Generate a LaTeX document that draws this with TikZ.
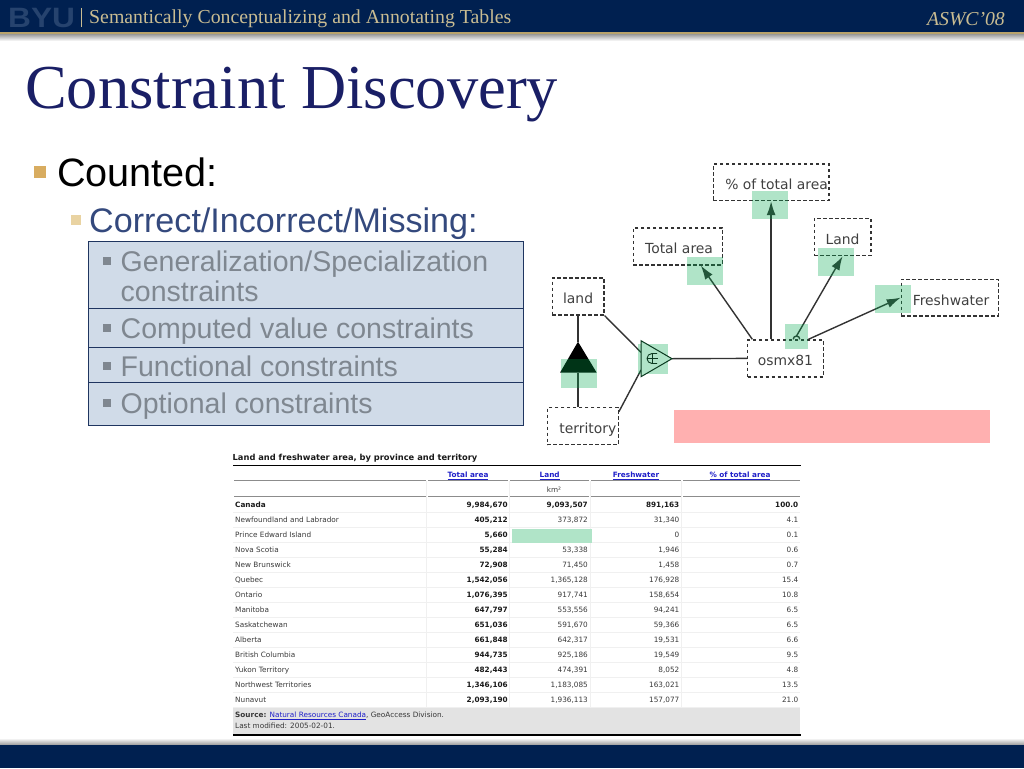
\documentclass[tikz,border=0pt]{standalone}
\usepackage{fontspec}
\setmainfont{Liberation Serif}
\setsansfont{Liberation Sans}
\newfontfamily\tablefont{DejaVu Sans}
\usetikzlibrary{arrows.meta,positioning,calc}
\newcommand{\fsz}[1]{\fontsize{#1}{#1}\selectfont}
\definecolor{navy}{HTML}{002050}
\definecolor{tan}{HTML}{C9BC92}
\definecolor{gold}{HTML}{B9A36B}
\definecolor{byublue}{HTML}{26436E}
\definecolor{bulletone}{HTML}{D8AC60}
\definecolor{bullettwo}{HTML}{E9D3A2}
\definecolor{titleblue}{HTML}{1A1F66}
\definecolor{subblue}{HTML}{34497D}
\definecolor{barfill}{HTML}{D0DBE8}
\definecolor{barline}{HTML}{1F3560}
\definecolor{fadegray}{HTML}{7F8790}
\definecolor{hilite}{RGB}{0,168,77}
\definecolor{hilitesolid}{RGB}{176,228,200}
\definecolor{symgreen}{HTML}{0B3A20}
\definecolor{pinkbar}{HTML}{FFB0B0}
\definecolor{linkblue}{HTML}{2020C8}
\tikzset{
  band/.style={fill=navy,draw=none},
  baritem/.style={draw=barline,line width=1pt,fill=barfill,anchor=north west,minimum width=435.5pt,inner sep=0},
  bartext/.style={anchor=base west,inner sep=0,text=fadegray,font=\sffamily\fsz{28.5}},
  objbox/.style={draw=black!80,dash pattern=on 3.5pt off 2.5pt,line width=1.2pt,anchor=north west,inner sep=0,
                 text=black!75,text height=14.8pt,text depth=0pt,font=\tablefont\fsz{13.9}},
  conn/.style={draw=black!80,line width=1.4pt},
  vnyil/.style={conn,-{Latex[length=14pt,width=9pt]}},
  zold/.style={fill=hilite,fill opacity=.31,draw=none},
  tcell/.style={anchor=east,inner sep=0,text height=6pt,text depth=1.5pt,text=black!78,font=\tablefont\fsz{7.3}},
  tbold/.style={tcell,text=black!90,font=\tablefont\bfseries\fsz{7.3}},
  tname/.style={tcell,anchor=west},
  thead/.style={anchor=center,inner sep=0,text=linkblue,font=\tablefont\bfseries\fsz{7.3}},
  hrule/.style={draw=black!45,line width=1pt},
  grid/.style={draw=black!6,line width=.6pt},
}
\begin{document}
\begin{tikzpicture}[x=1pt,y=-1pt]
  \useasboundingbox (0,0) rectangle (1024,768);
  % header and footer bands
  \shade[top color=black!40,bottom color=white,draw=none] (0,34) rectangle (1024,41);
  \shade[top color=white,bottom color=black!40,draw=none] (0,738) rectangle (1024,745);
  \fill[band] (0,0) rectangle (1024,32.5); \fill[gold] (0,32.5) rectangle (1024,34.5);
  \fill[band] (0,745) rectangle (1024,768);
  \node[anchor=base west,inner sep=0,xscale=1.13,text=byublue,font=\sffamily\bfseries\fsz{28}] (byu) at (8,28) {BYU};
  \draw[tan,line width=.7pt] (81.5,8) -- (81.5,27);
  \node[anchor=base west,inner sep=0,text=tan,font=\fsz{19.8}] (talk) at (89,24) {Semantically Conceptualizing and Annotating Tables};
  \node[anchor=base east,inner sep=0,text=tan,font=\itshape\fsz{19.7}] (conf) at (1005,26) {ASWC'08};
  \node[anchor=base west,inner sep=0,text=titleblue,font=\fsz{62.5}] (cim) at (25,108) {Constraint Discovery};
  % bullets
  \node[fill=bulletone,inner sep=0,minimum size=12pt] (b1) at (39.5,171.5) {};
  \node[anchor=base west,inner sep=0,font=\sffamily\fsz{39.6}] (counted) at (57,186) {Counted:};
  \node[fill=bullettwo,inner sep=0,minimum size=9.5pt] (b2) at (76,220) {};
  \node[anchor=base west,inner sep=0,text=subblue,font=\sffamily\fsz{34.1}] (cim2) at (89,232) {Correct/Incorrect/Missing:};
  \node[baritem,minimum height=67pt] (bar1) at (87.5,241) {};
  \node[baritem,minimum height=38.5pt] (bar2) at (87.5,308) {};
  \node[baritem,minimum height=35pt] (bar3) at (87.5,346.5) {};
  \node[baritem,minimum height=43.5pt] (bar4) at (87.5,381.5) {};
  \foreach \yb [count=\i] in {271,338,376,413}{
    \node[fill=fadegray,inner sep=0,minimum size=8pt] (sq\i) at (107,\yb-10) {};
  }
  \node[bartext] (t1) at (120.5,271) {Generalization/Specialization};
  \node[bartext] (t1b) at (120.5,301) {constraints};
  \node[bartext] (t2) at (120.5,338) {Computed value constraints};
  \node[bartext] (t3) at (120.5,376) {Functional constraints};
  \node[bartext] (t4) at (120.5,413) {Optional constraints};
  % object sets
  \node[objbox,minimum width=115.6pt,minimum height=36.7pt] (pct) at (712.7,163.3) {\hspace*{11pt}\% of total area};
  \node[objbox,minimum width=89pt,minimum height=37pt] (total) at (632.7,227.3) {\hspace*{2.5pt}Total area};
  \node[objbox,minimum width=56.6pt,minimum height=37.3pt] (landc) at (813.7,217.7) {Land};
  \node[objbox,minimum width=51.6pt,minimum height=37pt] (landp) at (551.7,277.3) {land};
  \node[objbox,minimum width=97pt,minimum height=36.6pt] (fresh) at (900.7,278.7) {\hspace*{2.5pt}Freshwater};
  \node[objbox,minimum width=75.7pt,minimum height=37pt] (osmx) at (747,339.3) {osmx81};
  \node[objbox,minimum width=71pt,minimum height=37pt] (terr) at (546.7,407) {\hspace*{10pt}territory};
  \coordinate (apex) at (578,341.7); \coordinate (basel) at (560,372.7); \coordinate (baser) at (596.7,372.7);
  \coordinate (basem) at (578,372.7);
  \coordinate (sumtop) at (641,340.7); \coordinate (sumbot) at (641,376.7); \coordinate (sumtip) at (672,358.7);
  \coordinate (sumin1) at (641,352.3); \coordinate (sumin2) at (641,370); \coordinate (sumc) at (652,358.5);
  \coordinate (bump) at (796.5,339.3);
  \draw[conn] (apex |- landp.south) -- (apex);
  \draw[conn] (terr.north -| basem) -- (basem);
  \fill[black] (apex) -- (basel) -- (baser) -- cycle;
  \draw[conn] (landp.south east) -- (sumin1);
  \draw[conn] (terr.east |- 0,411.7) -- (sumin2);
  \draw[conn] (sumtip) -- (osmx.west);
  \draw[vnyil] ([xshift=5.3pt]osmx.north west) -- ([xshift=23pt]total.south);
  \draw[vnyil] (pct.south |- osmx.north) -- (pct.south);
  \draw[vnyil] ([yshift=3.3pt]bump) -- (landc.south);
  \draw[vnyil] ([xshift=23pt]osmx.north) -- (fresh.west);
  \draw[conn] (bump) ++(-3.3pt,0) arc[start angle=180,end angle=0,radius=3.3pt];
  % highlights
  \fill[zold] (752.3,191.3) rectangle (788,219.3);
  \fill[zold] (687,257.3) rectangle (723,285.3);
  \fill[zold] (818.3,247.7) rectangle (854.3,276);
  \fill[zold] (875,285) rectangle (911,313.3);
  \fill[zold] (785.3,324) rectangle (808.3,348.7);
  \fill[zold] (638.3,344) rectangle (667.7,374);
  \fill[zold] (561.3,359.3) rectangle (597,388);
  \draw[symgreen,line width=1pt,fill=hilitesolid] (sumtop) -- (sumbot) -- (sumtip) -- cycle;
  \draw[symgreen,line width=.9pt] (657,353.5) -- (652,353.5) arc[start angle=90,end angle=270,radius=5pt] -- (657,363.5);
  \draw[symgreen,line width=.9pt] (647,358.5) -- (658,358.5) (652,353.5) -- (652,363.5);
  \fill[pinkbar] (674.3,410) rectangle (989.7,443.3);
  % table
  \node[anchor=base west,inner sep=0,text=black!90,font=\tablefont\bfseries\fsz{8.3}] (tcim) at (232.5,460) {Land and freshwater area, by province and territory};
  \draw[black,line width=1.1pt] (233,465.5) -- (801,465.5);
  \fill[black!11] (233,708) rectangle (800,734);
  \draw[black,line width=1.3pt] (233,735) -- (801,735);
  \foreach \xa/\xb in {234/426,428/508,510/589,591/681,683/800}{
    \draw[hrule] (\xa,480.7) -- (\xb,480.7);
    \draw[hrule] (\xa,496) -- (\xb,496);
  }
  \foreach \xa in {426.5,509.5,590,681.5}{
    \draw[grid] (\xa,481) -- (\xa,707);
  }
  \foreach \yb in {0,...,13}{
    \draw[grid] (233,512.5+15*\yb) -- (800,512.5+15*\yb);
  }
  \fill[hilitesolid] (512,529) rectangle (591.7,542.7);
  \node[thead] (h1) at (468,476) {\underline{Total area}};
  \node[thead] (h2) at (549.7,476) {\underline{Land}};
  \node[thead] (h3) at (636,476) {\underline{Freshwater}};
  \node[thead] (h4) at (740,476) {\underline{\% of total area}};
  \node[tcell,anchor=center] (km) at (554,490) {km²};
  \node[tname,tbold,anchor=west] (r0) at (235,505.5) {Canada};
  \node[tbold] (r0a) at (508,505.5) {9,984,670}; \node[tbold] (r0b) at (588,505.5) {9,093,507};
  \node[tbold] (r0c) at (679.5,505.5) {891,163}; \node[tbold] (r0d) at (798.5,505.5) {100.0};
  \foreach \prov/\vtot/\vland/\vfresh/\vpct [count=\i] in {
    Newfoundland and Labrador/{405,212}/{373,872}/{31,340}/4.1,
    Prince Edward Island/{5,660}/{}/0/0.1,
    Nova Scotia/{55,284}/{53,338}/{1,946}/0.6,
    New Brunswick/{72,908}/{71,450}/{1,458}/0.7,
    Quebec/{1,542,056}/{1,365,128}/{176,928}/15.4,
    Ontario/{1,076,395}/{917,741}/{158,654}/10.8,
    Manitoba/{647,797}/{553,556}/{94,241}/6.5,
    Saskatchewan/{651,036}/{591,670}/{59,366}/6.5,
    Alberta/{661,848}/{642,317}/{19,531}/6.6,
    British Columbia/{944,735}/{925,186}/{19,549}/9.5,
    Yukon Territory/{482,443}/{474,391}/{8,052}/4.8,
    Northwest Territories/{1,346,106}/{1,183,085}/{163,021}/13.5,
    Nunavut/{2,093,190}/{1,936,113}/{157,077}/21.0}{
    \node[tname] (r\i) at (235,505.5+15*\i) {\prov};
    \node[tbold] (r\i a) at (508,505.5+15*\i) {\vtot};
    \node[tcell] (r\i b) at (588,505.5+15*\i) {\vland};
    \node[tcell] (r\i c) at (679.5,505.5+15*\i) {\vfresh};
    \node[tcell] (r\i d) at (798.5,505.5+15*\i) {\vpct};
  }
  \node[tname] (src) at (235,715.5) {{\bfseries Source:} \textcolor{linkblue}{\underline{Natural Resources Canada}}, GeoAccess Division.};
  \node[tname] (mod) at (235,726.5) {Last modified: 2005-02-01.};
\end{tikzpicture}
\end{document}
